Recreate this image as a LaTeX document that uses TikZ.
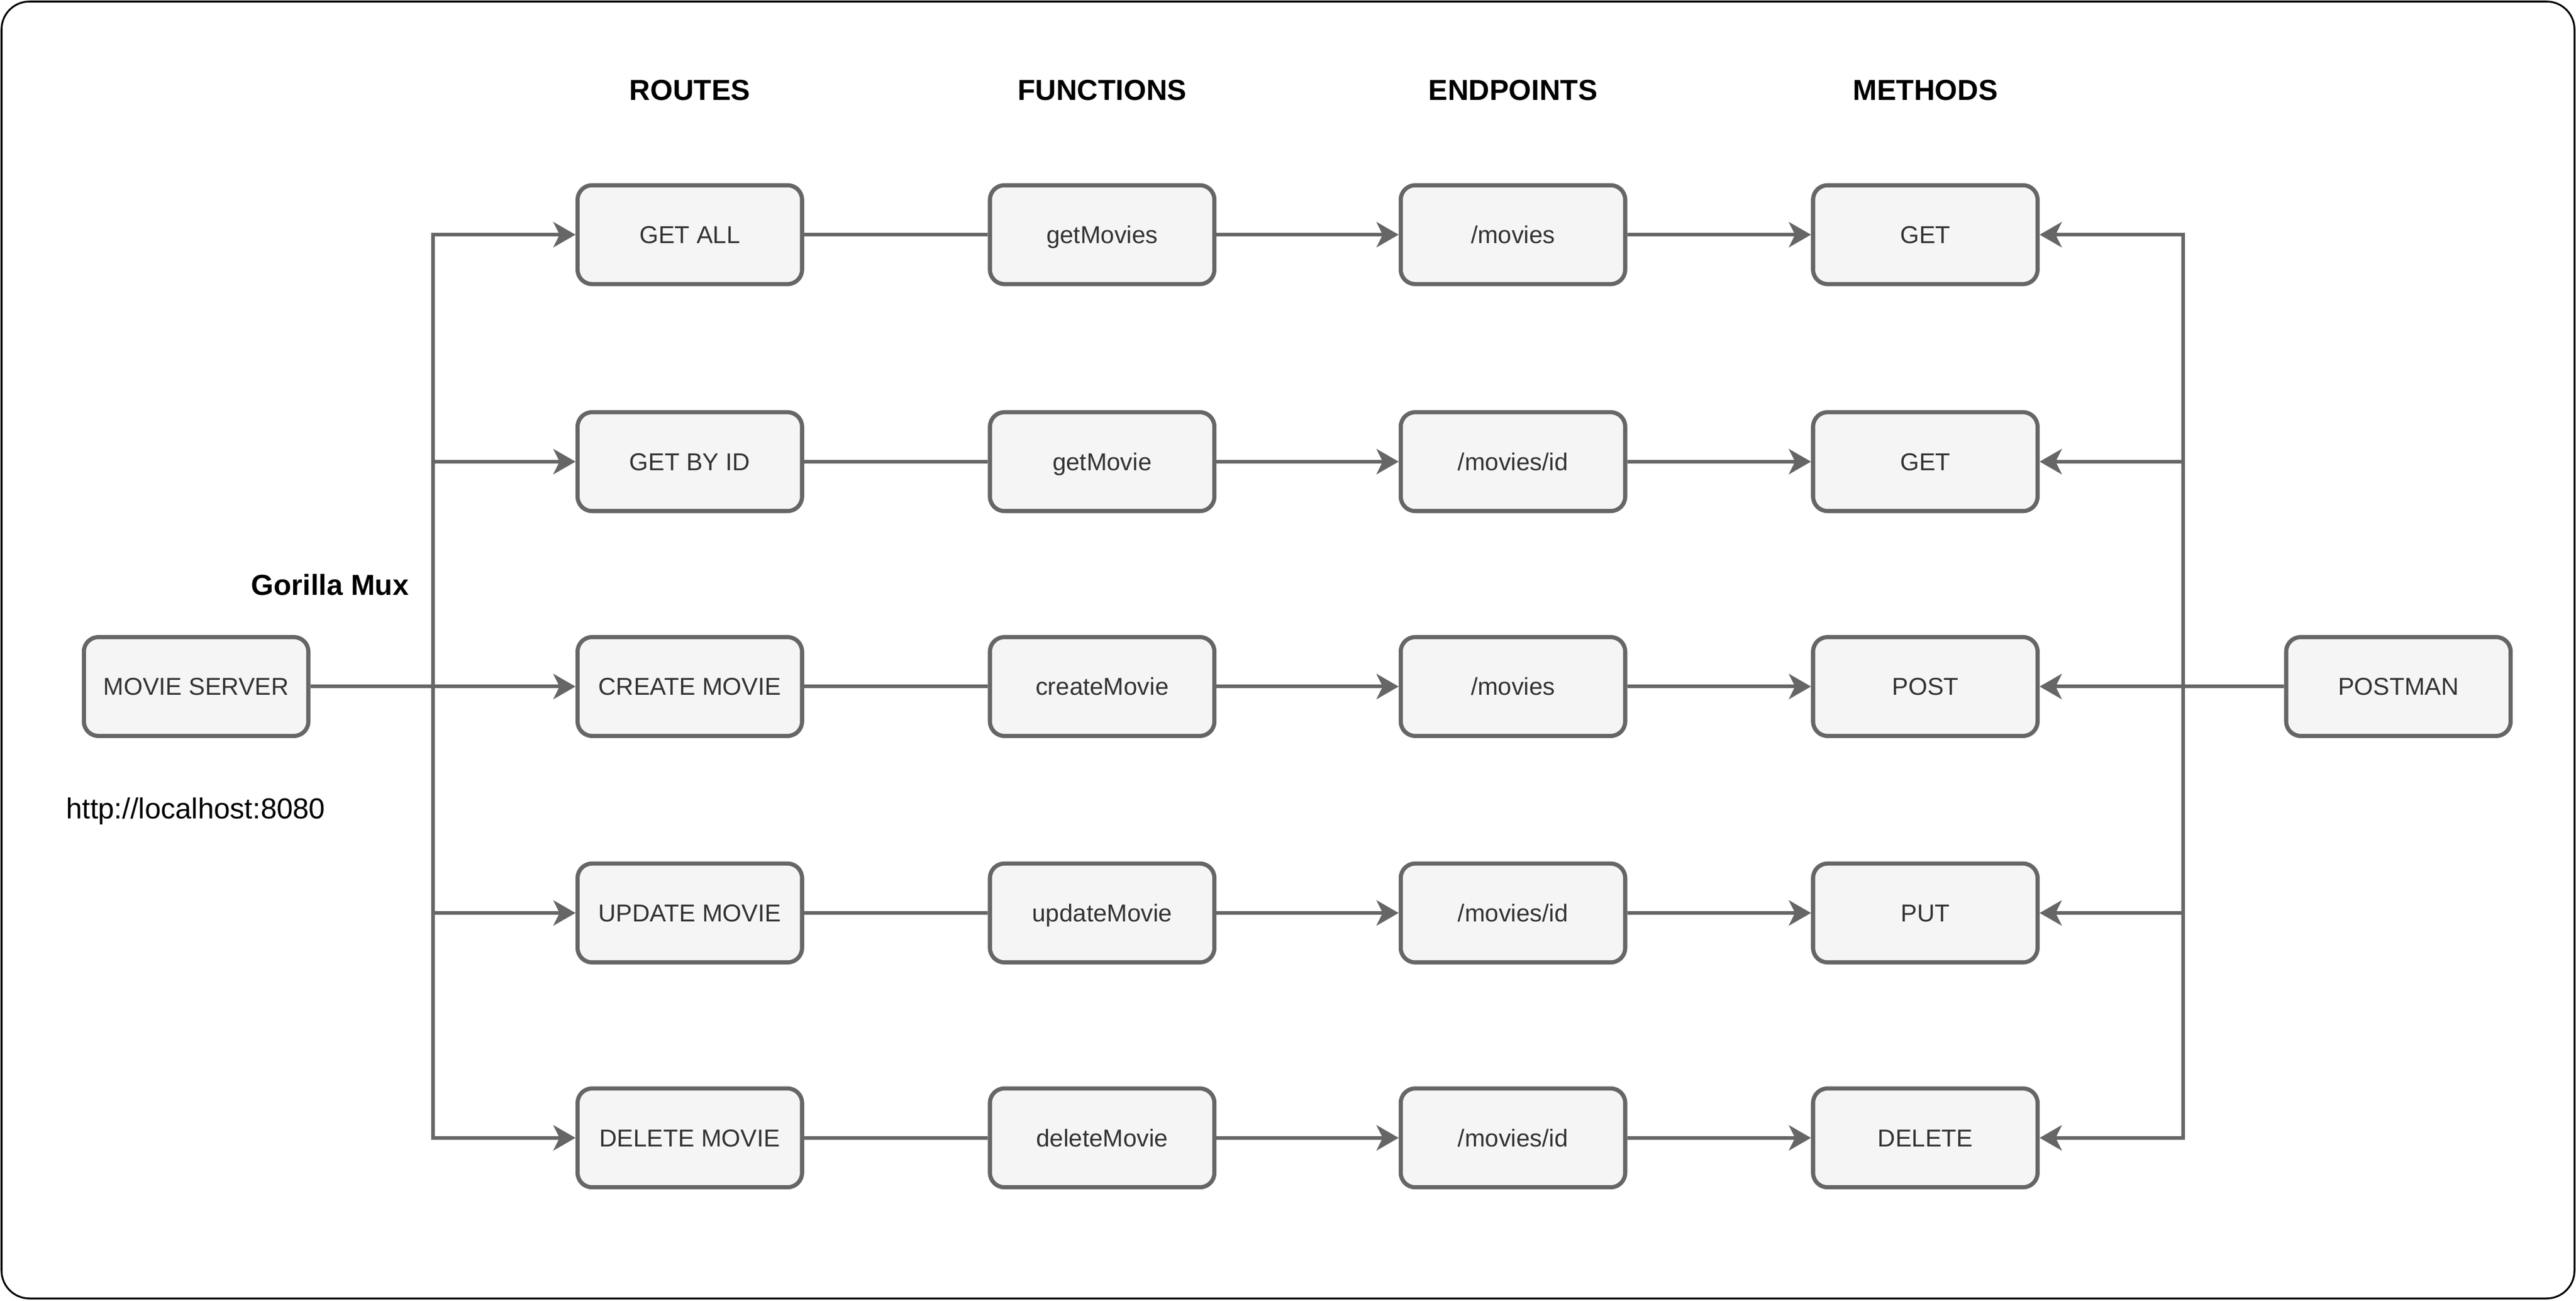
\documentclass[tikz,border=0pt]{standalone}
\usepackage{fontspec}
\setmainfont{Liberation Sans}
\usetikzlibrary{arrows.meta,positioning}
\definecolor{boxfill}{HTML}{F5F5F5}
\definecolor{boxline}{HTML}{666666}
\definecolor{boxtext}{HTML}{333333}
\begin{document}
\begin{tikzpicture}[line join=miter, >={Stealth[length=0.43cm,width=0.49cm,inset=0.12cm]},
	cell/.style={draw=boxline, fill=boxfill, text=boxtext, line width=2.3pt, rounded corners=0.28cm,
		minimum width=4.36cm, minimum height=1.92cm, inner sep=0pt, text height=0.34cm, text depth=0cm,
		font=\fontsize{13.5}{16}\selectfont},
	head/.style={font=\bfseries\fontsize{16}{19}\selectfont},
	link/.style={draw=boxline, line width=2pt}]
	\useasboundingbox (0,0) rectangle (50.04,-25.28);
	\draw[line width=1pt, rounded corners=0.54cm] (0.03,-0.03) rectangle (50.01,-25.23);
	% column titles
	\foreach \x/\t/\n in {13.40/ROUTES/hroutes, 21.41/FUNCTIONS/hfunc, 29.39/ENDPOINTS/hend, 37.40/METHODS/hmeth}{
		\node[head] (\n) at (\x,-1.75) {\t};}
	\node[cell] (server) at (3.81,-13.34) {MOVIE SERVER};
	\node[cell] (postman) at (46.59,-13.34) {POSTMAN};
	\node[head] (mux) at (6.41,-11.36) {Gorilla Mux};
	\node[font=\fontsize{16}{19}\selectfont] (url) at (3.80,-15.76) {http://localhost:8080};
	\path
	(8.41,-13.34)coordinate(lbus)
	(42.41,-13.34)coordinate(rbus)
	;
	\foreach \i/\y/\r/\f/\e/\m in {1/4.56/GET ALL/getMovies/{/movies}/GET,
		2/8.97/GET BY ID/getMovie/{/movies/id}/GET,
		3/13.34/CREATE MOVIE/createMovie/{/movies}/POST,
		4/17.74/UPDATE MOVIE/updateMovie/{/movies/id}/PUT,
		5/22.11/DELETE MOVIE/deleteMovie/{/movies/id}/DELETE}{
		\node[cell] (r\i) at (13.40,-\y) {\r};
		\node[cell] (f\i) at (21.41,-\y) {\f};
		\node[cell] (e\i) at (29.39,-\y) {\e};
		\node[cell] (m\i) at (37.40,-\y) {\m};
		\draw[link] (r\i) -- (f\i);
		\draw[link,->] (f\i) -- (e\i);
		\draw[link,->] (e\i) -- (m\i);
		\draw[link,->] (server) -- (lbus) |- (r\i);
		\draw[link,->] (postman) -- (rbus) |- (m\i);}
\end{tikzpicture}
\end{document}
